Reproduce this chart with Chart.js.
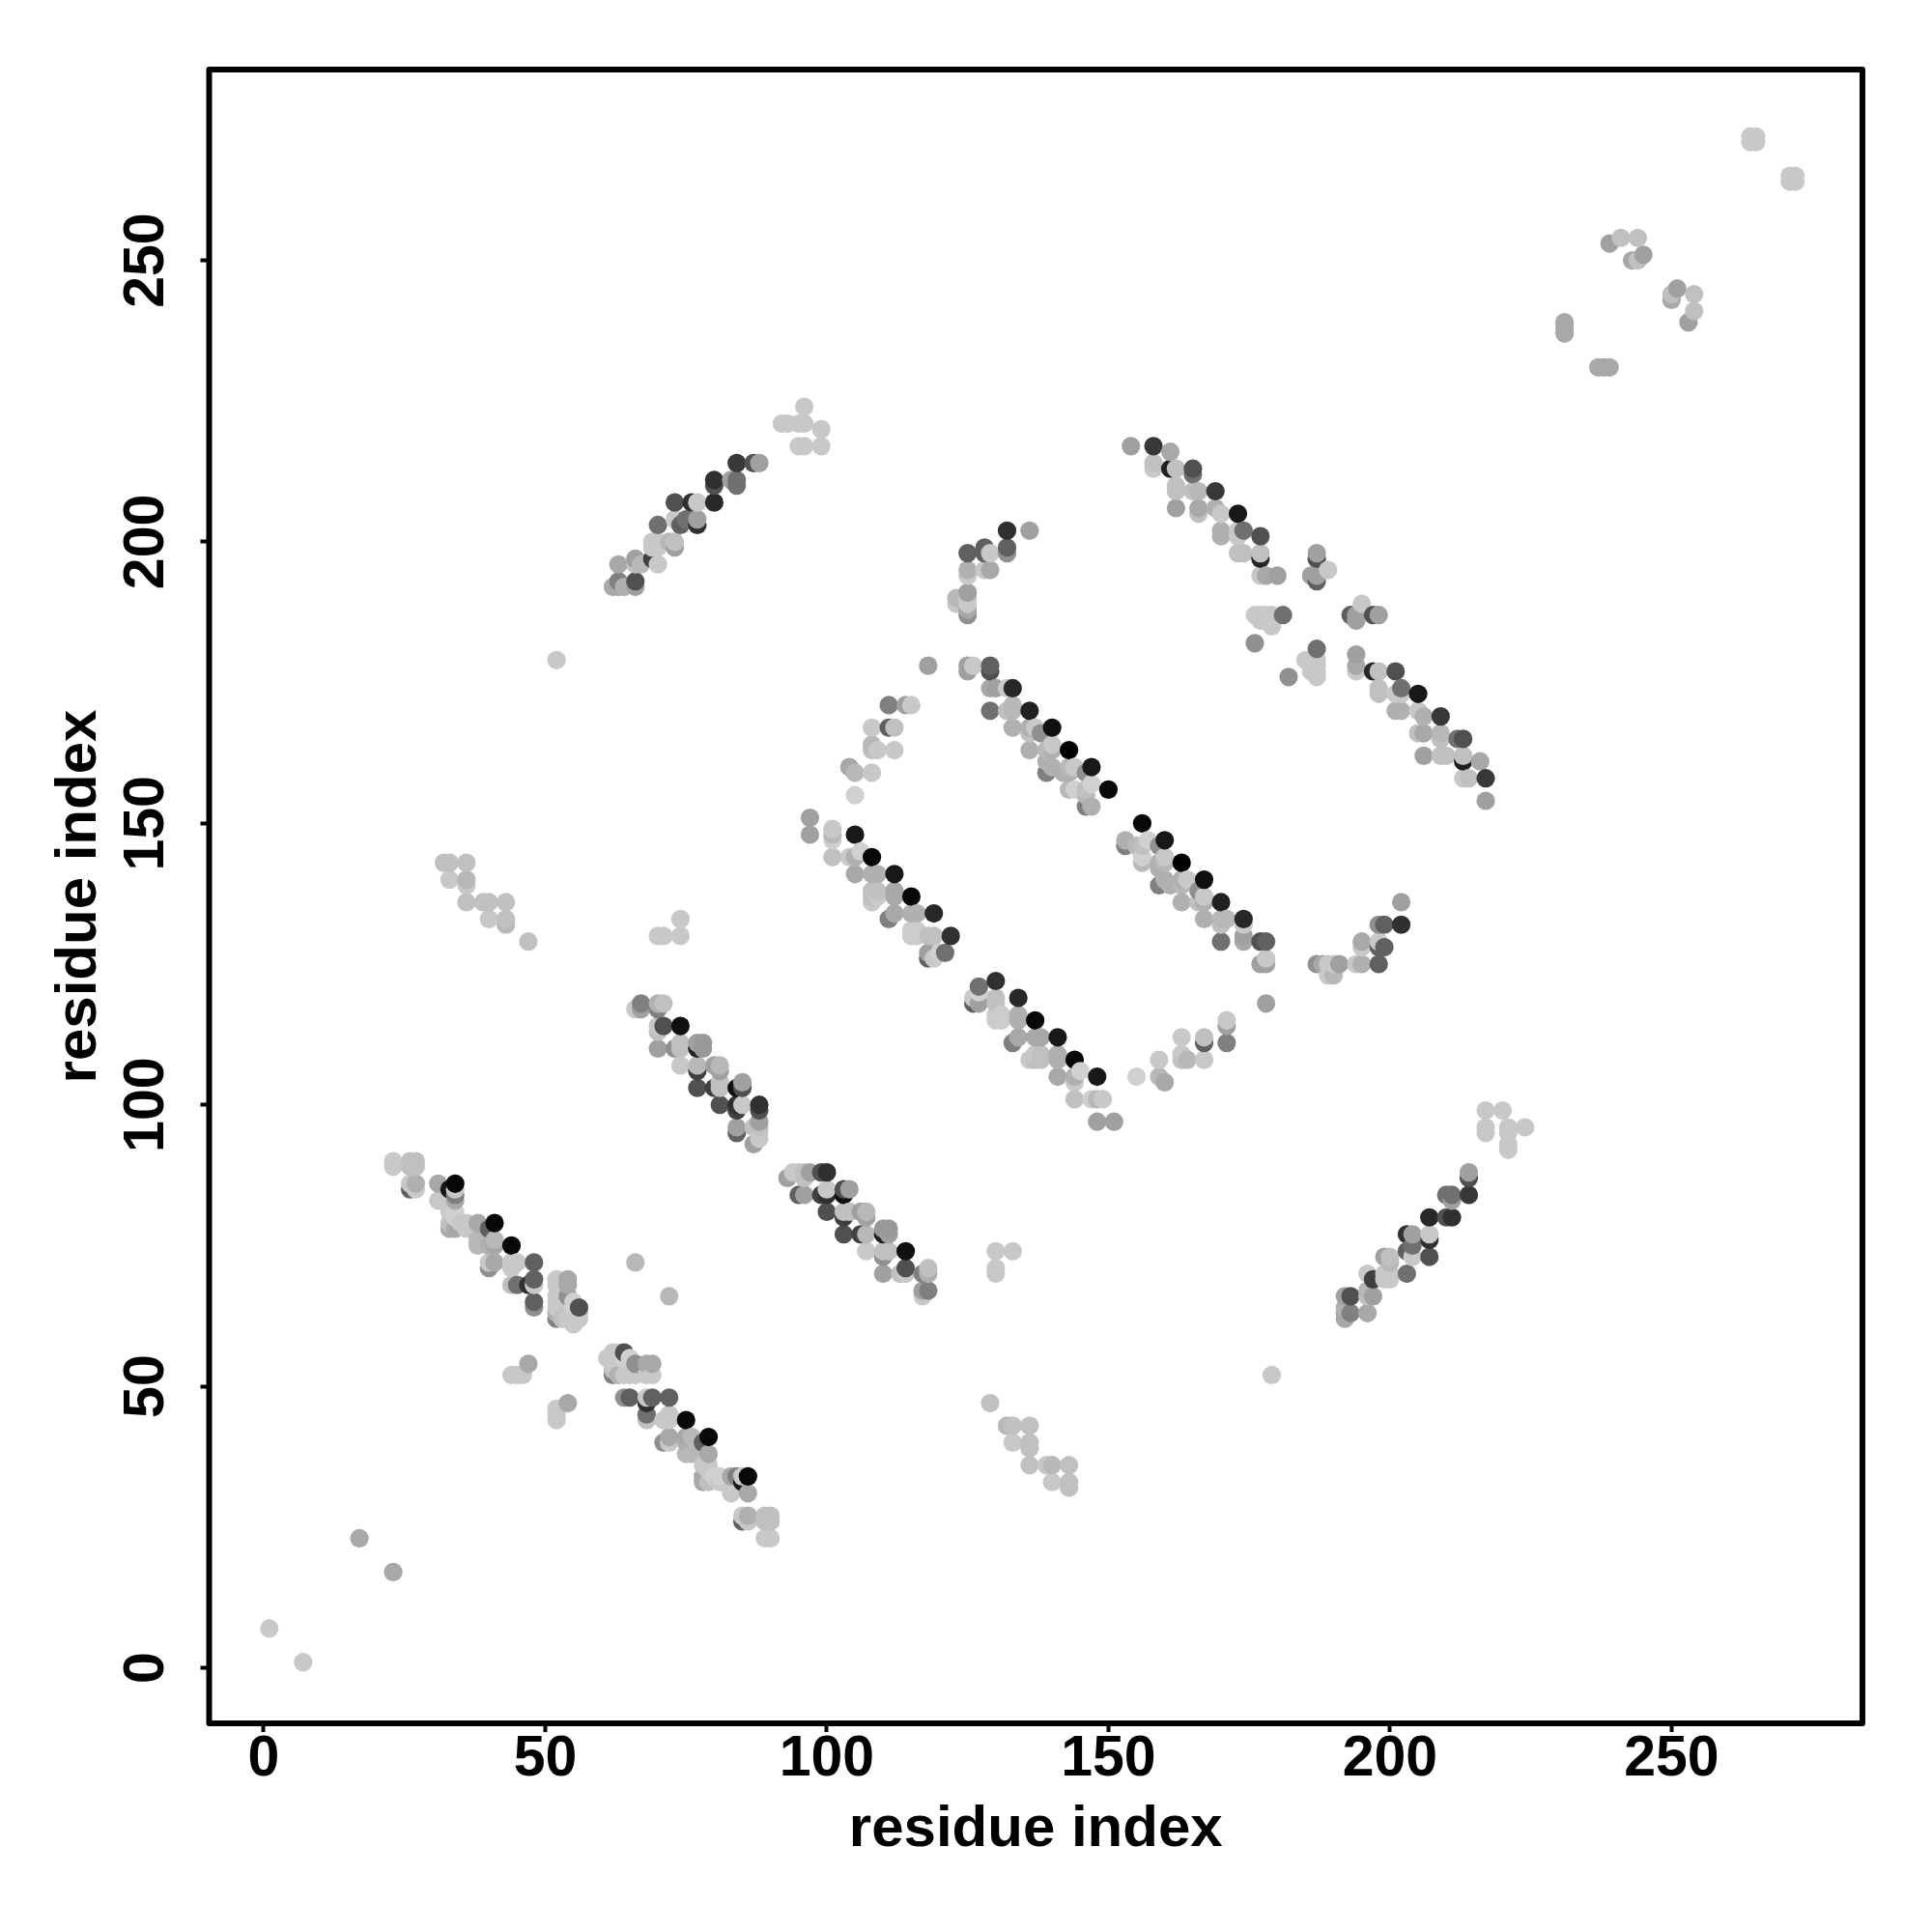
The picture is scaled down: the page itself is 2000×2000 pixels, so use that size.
<!DOCTYPE html>
<html>
<head>
<meta charset="utf-8">
<style>html,body{margin:0;padding:0;background:#fff}canvas{display:block}</style>
<script src="https://cdn.jsdelivr.net/npm/chart.js@4"></script>
</head>
<body>
<canvas id="c" width="2000" height="2000"></canvas>
<script>
// Each entry: [residue i, residue j, grey level]. The contact map is symmetric, so (j, i) is plotted too.
const tickValues = [0, 50, 100, 150, 200, 250];
const axisTitle = "residue index";
const isolated = [[1,7,0xc8],[17,23,0xa8],[52,179,0xc8],[66,72,0xb8],[118,178,0xa0]];
const sheetA = [[23,89,0xc8],[23,90,0xc8],[26,89,0xc0],[26,90,0xc0],[27,89,0xc0],[27,90,0xc0],
 [26,85,0x60],[26,86,0xc8],[27,85,0xc8],[27,86,0xb0],[31,86,0xa8],[31,83,0xc8],[33,85,0x18],
 [34,86,0x08],[34,85,0xc8],[34,84,0x80],[34,83,0xa8],[33,81,0xc8],[34,81,0xd0],[34,80,0xd0],[33,79,0xc0],
 [33,78,0xa8],[34,78,0xa8],[35,79,0xc8],[36,79,0xc8],[36,78,0xc8],[38,79,0xa8],[40,78,0x60],[41,79,0x08],
 [38,76,0xb8],[38,75,0xb8],[40,75,0xb0],[41,76,0xb8],[41,75,0xa8],[44,75,0x08],[40,72,0xc8],[41,72,0xa8],
 [40,71,0x90],[44,72,0xc8],[45,72,0xc8],[44,71,0xc8],[48,72,0x60],[44,68,0xc0],[45,68,0x70],[47,68,0x30],
 [48,69,0x60],[48,68,0xc8],[48,65,0x60],[48,64,0x90]];
const sheetACap = [[44,52,0xc8],[45,52,0xc8],[46,52,0xc8],[47,54,0xa8],[52,69,0xc8],[52,68,0xc8],[54,69,0xa8],[54,68,0xa8],
 [54,66,0x90],[52,66,0xc8],[52,65,0xc8],[52,64,0xc8],[52,63,0xb0],[52,62,0x80],[53,62,0xc0],[54,62,0xc8],
 [55,65,0xd0],[55,64,0xd0],[55,63,0xc8],[55,62,0xc8],[55,61,0xc8],[56,64,0x50],[56,63,0xc8],[56,62,0xc8]];
const sheetB = [[66,117,0xc8],[67,117,0xa0],[67,118,0x80],[70,117,0x80],[70,118,0xb0],[71,118,0xc0],
 [71,114,0x50],[74,114,0x10],[70,114,0xc8],[70,113,0xc0],[70,110,0xa0],[73,110,0x90],[74,111,0xc0],[74,110,0xc0],
 [74,107,0xc8],[77,110,0x20],[77,111,0xa0],[78,111,0x98],[78,110,0x98],[77,107,0xb8],[77,106,0x40],[77,103,0x50],
 [80,103,0x40],[80,107,0xa0],[81,107,0xb8],[81,106,0xa0],[81,104,0xc0],[81,103,0xc0],[81,100,0x50],[84,103,0x10],
 [85,104,0xa0],[85,103,0x50],[84,100,0x30],[84,99,0x40],[85,100,0xc8],[88,100,0x30],[88,99,0x50],[88,97,0xa0],
 [84,96,0xa0],[84,95,0x60],[87,96,0xc0],[88,96,0xc0],[88,95,0xc8],[88,94,0xc8],[87,93,0xa0]];
const sheetC = [[97,151,0xa0],[97,148,0xa0],[101,149,0xc8],[101,148,0xb8],[101,147,0xd0],[101,144,0xc0],[105,148,0x18],
 [104,144,0xc8],[105,144,0xb0],[106,145,0xd0],[105,141,0xa8],[108,144,0x08],[108,141,0xb0],[109,141,0xb0],[112,141,0x18],
 [108,138,0xc0],[109,138,0xc0],[108,137,0xc0],[109,137,0xc8],[108,136,0xc8],[112,138,0xa8],[112,137,0xa8],[115,137,0x08],
 [111,133,0x80],[112,134,0xa8],[115,134,0xb0],[116,134,0xb0],[119,134,0x28],[115,131,0xcc],[116,131,0xcc],[115,130,0xcc],
 [116,130,0xcc],[118,130,0xc0],[119,130,0xc0],[122,130,0x30],[118,127,0xa0],[118,126,0x60],[119,126,0xc8],[120,127,0xd0],[121,127,0x70]];
const sheetD = [[125,177,0xa0],[125,178,0xa0],[126,178,0xc8],[129,177,0x50],[129,178,0x60],[129,174,0xa8],[130,174,0xa0],
 [132,174,0xc8],[133,174,0x28],[129,170,0x70],[132,170,0xc0],[133,170,0xb8],[133,171,0xb8],[136,170,0x20],[133,167,0xb0],
 [136,167,0xb0],[137,167,0xc8],[140,167,0x10],[136,166,0xc0],[138,166,0x90],[136,163,0xb0],[139,163,0xb8],[140,163,0xb0],
 [140,164,0xc8],[143,163,0x00],[139,159,0x80],[139,161,0xb0],[140,160,0xb0],[142,159,0xb0],[143,159,0xb0],[143,160,0xb8],
 [144,160,0xc8],[146,159,0x90],[147,160,0x18],[143,156,0xb8],[144,156,0xd0],[146,156,0xc0],[146,155,0xb8],[147,157,0xd0],
 [150,156,0x08],[146,153,0x80],[147,153,0xb0]];
const sheetE = [[154,217,0xa0],[158,217,0x38],[161,216,0xa8],[158,214,0xc0],[158,213,0xc8],[161,213,0x20],[162,213,0xc0],
 [165,213,0x50],[165,212,0x70],[162,210,0xc0],[162,209,0xc0],[165,209,0xc0],[166,209,0xb8],[169,209,0x38],[162,206,0xa0],
 [166,206,0xa8],[166,205,0xc0],[169,206,0xb0],[170,205,0xc8],[173,205,0x18],[170,202,0xb0],[170,201,0xb0],[174,202,0x70],
 [173,202,0xc8],[173,201,0xc8],[177,201,0x50],[177,198,0xc0],[177,197,0x28],[173,198,0xc0],[174,198,0xc0],[177,194,0xc8],
 [178,194,0xa8],[180,194,0xa0],[176,187,0xc8],[177,187,0xc8],[178,187,0xc8],[179,187,0xc8],[181,187,0x70],[177,186,0xc8],
 [178,186,0xc8],[179,185,0xc8],[176,182,0x90],[187,198,0xa0],[187,197,0x50],[189,195,0xc8],[186,194,0xa0],[187,194,0xa0],[187,193,0x60]];
const strandParallel = [[62,192,0xa8],[63,192,0xa8],[64,192,0xb0],[66,192,0xa0],[63,193,0x80],[66,193,0x50],[63,196,0xa8],
 [66,196,0xc0],[67,196,0xb8],[70,196,0xc8],[66,197,0xa0],[69,197,0x40],[69,199,0xc8],[70,199,0xc8],[69,200,0xc8],[70,200,0xc8],
 [72,200,0xb8],[73,200,0xc0],[73,199,0xa0],[70,203,0x70],[74,203,0x60],[73,204,0xc8],[75,204,0x70],[77,204,0xa0],[77,203,0x30],
 [73,207,0x50],[76,207,0x30],[77,207,0xc8],[80,207,0x28],[80,210,0x50],[80,211,0x30],[83,211,0xa0],[84,211,0x70],[84,210,0x70],
 [84,214,0x38],[87,214,0x50],[88,214,0xa0]];
const parallelTail = [[92,221,0xc8],[93,221,0xc8],[95,221,0xc8],[96,221,0xc8],[96,224,0xc8],[99,220,0xc8],[95,217,0xc8],[96,217,0xc8],[99,217,0xc8]];
const curveLeft = [[32,143,0xc0],[33,143,0xc0],[36,143,0xc0],[33,140,0xc8],[36,140,0xb8],[36,139,0xc8],[36,136,0xc0],[39,136,0xc0],
 [40,136,0xc0],[43,136,0xc0],[40,133,0xc8],[43,133,0xc0],[43,132,0xb8],[47,129,0xc0],[70,130,0xc8],[71,130,0xc8],[74,130,0xc8],[74,133,0xc8]];
const curveMid = [[105,155,0xd0],[104,160,0xa8],[105,159,0xb8],[108,159,0xc8],[108,164,0xb8],[108,163,0xc0],[109,163,0xc8],[112,163,0xc8],
 [108,167,0xc8],[111,167,0x60],[112,167,0xc0],[115,171,0xc8],[114,171,0xa0],[111,171,0x80]];
const curveUpper = [[132,202,0x30],[136,202,0xa0],[132,199,0x60],[132,198,0x90],[128,199,0x60],[128,198,0x60],[129,198,0xc8],[125,198,0x60],
 [125,195,0xb0],[125,194,0xc8],[125,191,0xa0],[125,190,0xc8],[125,189,0xc8],[125,188,0xa8],[125,187,0x90],[123,190,0xb8],[123,189,0xc8],
 [128,195,0xc8],[129,195,0xa8]];
const cTerminal = [[231,239,0xa8],[231,238,0xa8],[231,237,0xa8],[239,253,0xa0],[241,254,0xc0],[244,254,0xc0],[245,251,0xa0],[243,250,0xa8],
 [244,250,0xc0],[264,271,0xc8],[264,272,0xc8],[265,271,0xc8],[265,272,0xc8]];

const contacts = [isolated, sheetA, sheetACap, sheetB, sheetC, sheetD, sheetE, strandParallel, parallelTail, curveLeft, curveMid, curveUpper, cTerminal].flat();
const points = contacts
  .flatMap(([i, j, g]) => [{x: i, y: j, g}, {x: j, y: i, g}])
  .sort((a, b) => a.x - b.x || a.y - b.y);

const frame = {
  id: 'frame',
  afterDraw(chart) {
    const {ctx, chartArea: a} = chart;
    ctx.save();
    ctx.strokeStyle = '#000';
    ctx.lineWidth = 6;
    ctx.lineJoin = 'round';
    ctx.strokeRect(a.left, a.top, a.right - a.left, a.bottom - a.top);
    ctx.restore();
  }
};
const FONT = 'Liberation Sans';
const axisBase = {
  type: 'linear',
  afterBuildTicks: s => { s.ticks = tickValues.map(v => ({value: v})); },
  border: {display: false},
  grid: {drawOnChartArea: false, drawTicks: true, tickLength: 9, tickWidth: 4, tickColor: '#000'}
};
new Chart(document.getElementById('c'), {
  type: 'scatter',
  data: {datasets: [{
    data: points,
    pointRadius: 9.6,
    pointHoverRadius: 9.6,
    pointBorderWidth: 0,
    pointBackgroundColor: points.map(p => `rgb(${p.g},${p.g},${p.g})`)
  }]},
  plugins: [frame],
  options: {
    responsive: false,
    animation: false,
    events: [],
    layout: {padding: {top: 72, right: 72, left: 0, bottom: 0}},
    plugins: {legend: {display: false}, tooltip: {enabled: false}, title: {display: false}},
    scales: {
      x: Object.assign({}, axisBase, {
        min: -9.69, max: 283.9,
        afterFit: s => { s.height = 216; },
        ticks: {color: '#000', font: {family: FONT, weight: 'bold', size: 59}, padding: -7, maxRotation: 0, minRotation: 0, autoSkip: false},
        title: {display: true, text: axisTitle, color: '#000', font: {family: FONT, weight: 'bold', size: 60, lineHeight: 1}, padding: {top: 0, bottom: 76}}
      }),
      y: Object.assign({}, axisBase, {
        min: -9.87, max: 283.9,
        afterFit: s => { s.width = 216.5; },
        ticks: {color: '#000', font: {family: FONT, weight: 'bold', size: 59}, padding: 6, minRotation: 90, maxRotation: 90, crossAlign: 'center', autoSkip: false},
        title: {display: true, text: axisTitle, color: '#000', font: {family: FONT, weight: 'bold', size: 60, lineHeight: 1}, padding: {top: 52.5, bottom: 0}}
      })
    }
  }
});
</script>
</body>
</html>
